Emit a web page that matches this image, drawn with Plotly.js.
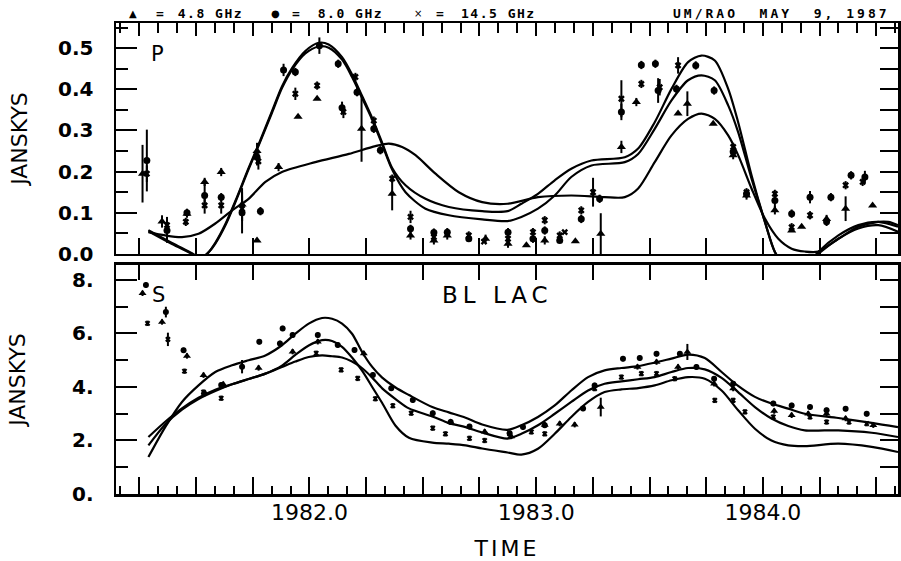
<!DOCTYPE html>
<html><head><meta charset="utf-8">
<script src="https://cdn.plot.ly/plotly-3.0.1.min.js"></script>
<style>
html,body{margin:0;padding:0;background:#fff;}
#chart{width:901px;height:561px;}
.xtitle{letter-spacing:3px;}
g.annotation[data-index="0"] text{letter-spacing:5px;}
g.annotation[data-index="3"] text{letter-spacing:3px;}
g.annotation[data-index="6"] text,g.annotation[data-index="9"] text,g.annotation[data-index="12"] text{letter-spacing:1.5px;}
</style></head><body><div id="chart"></div>
<script>
// ---------------- DATA ----------------
// Top panel (P, polarized flux, Jy)
const P48_t = [1981.264,1981.350,1981.460,1981.538,1981.611,1981.703,1981.769,1981.769,1981.864,1981.950,1982.034,1982.230,1982.365,1982.446,1982.549,1982.608,1982.777,1982.876,1982.957,1983.038,1983.173,1983.285,1983.376,1983.442,1983.626,1983.667,1983.781,1983.869,1983.928,1984.053,1984.127,1984.171,1984.281,1984.365,1984.484];
const P48_v = [0.195,0.079,0.098,0.175,0.199,0.12,0.033,0.25,0.211,0.333,0.377,0.304,0.146,0.045,0.033,0.045,0.037,0.025,0.021,0.033,0.031,0.049,0.260,0.369,0.341,0.365,0.316,0.24,0.142,0.106,0.057,0.066,0.085,0.110,0.118];
const P48_e = [0.07,0.015,0.01,0.01,0.01,0.04,0,0.02,0.01,0,0,0.08,0.04,0.01,0.01,0.01,0.01,0.01,0,0.01,0,0.05,0.015,0.01,0,0.03,0,0.01,0.01,0.01,0,0,0.01,0.03,0];

const P80_t = [1981.283,1981.372,1981.460,1981.538,1981.611,1981.703,1981.784,1981.769,1981.886,1981.938,1982.044,1982.127,1982.144,1982.210,1982.284,1982.313,1982.446,1982.549,1982.608,1982.703,1982.876,1982.986,1983.038,1983.104,1983.199,1983.280,1983.376,1983.464,1983.526,1983.538,1983.619,1983.704,1983.785,1983.869,1983.928,1984.053,1984.127,1984.208,1984.281,1984.300,1984.389,1984.450];
const P80_v = [0.227,0.057,0.100,0.142,0.138,0.10,0.104,0.235,0.447,0.442,0.506,0.462,0.355,0.393,0.304,0.252,0.061,0.052,0.053,0.037,0.053,0.037,0.057,0.033,0.085,0.134,0.345,0.459,0.462,0.397,0.401,0.458,0.397,0.248,0.146,0.130,0.098,0.138,0.078,0.138,0.191,0.187];
const P80_e = [0.075,0.03,0.01,0.03,0.01,0.05,0.01,0.02,0.015,0.01,0.02,0.01,0.015,0.01,0.01,0.01,0.01,0.01,0.01,0,0.01,0.01,0.01,0,0.01,0.01,0.02,0.01,0.01,0.03,0.01,0.01,0.01,0.01,0.01,0.02,0.01,0.015,0.01,0.01,0.01,0.015];

const P145_t = [1981.283,1981.372,1981.455,1981.538,1981.611,1981.703,1981.775,1981.938,1982.034,1982.150,1982.203,1982.284,1982.365,1982.446,1982.549,1982.703,1982.770,1982.876,1982.986,1983.038,1983.104,1983.126,1983.199,1983.251,1983.376,1983.464,1983.545,1983.626,1983.869,1983.928,1984.053,1984.127,1984.208,1984.365,1984.440];
const P145_v = [0.195,0.070,0.078,0.118,0.118,0.11,0.225,0.389,0.409,0.345,0.430,0.324,0.183,0.090,0.041,0.045,0.030,0.037,0.053,0.082,0.045,0.053,0.106,0.150,0.377,0.413,0.405,0.458,0.260,0.150,0.146,0.065,0.094,0.167,0.175];
const P145_e = [0.02,0.02,0.01,0.02,0.02,0.03,0.02,0.015,0.01,0.015,0.01,0.01,0.01,0.015,0.01,0.01,0,0.01,0.01,0.01,0.01,0,0.01,0.035,0.045,0.01,0.02,0.02,0.01,0.01,0.01,0.01,0.01,0.01,0.01];

// Top panel model curves
const PA_t = [1981.290,1981.364,1981.438,1981.511,1981.585,1981.659,1981.732,1981.806,1981.879,1982.026,1982.174,1982.291,1982.350,1982.409,1982.468,1982.556,1982.659,1982.762,1982.874,1983.008,1983.155,1983.302,1983.391,1983.450,1983.523,1983.597,1983.670,1983.729,1983.788,1983.847,1983.891,1983.950,1984.009,1984.068,1984.127,1984.185,1984.244,1984.333,1984.421,1984.509,1984.553,1984.596];
const PA_v = [0.053,0.045,0.041,0.049,0.074,0.106,0.134,0.175,0.199,0.223,0.243,0.262,0.268,0.260,0.240,0.195,0.150,0.126,0.122,0.138,0.142,0.138,0.138,0.159,0.223,0.288,0.328,0.341,0.328,0.288,0.240,0.159,0.086,0.037,0.013,0.006,0.006,0.037,0.066,0.078,0.078,0.070];
const PB_t = [1981.290,1981.394,1981.482,1981.520,1981.556,1981.585,1981.629,1981.673,1981.732,1981.776,1981.835,1981.879,1981.924,1981.982,1982.041,1982.085,1982.144,1982.188,1982.233,1982.277,1982.321,1982.365,1982.424,1982.512,1982.615,1982.762,1982.874,1982.935,1983.008,1983.082,1983.155,1983.244,1983.391,1983.450,1983.523,1983.597,1983.670,1983.729,1983.788,1983.847,1983.891,1983.950,1984.009,1984.053,1984.100,1984.150,1984.200,1984.244,1984.333,1984.421,1984.509,1984.596];
const PB_v = [0.058,0.027,0.002,-0.010,0.005,0.027,0.072,0.128,0.209,0.266,0.347,0.407,0.452,0.493,0.513,0.509,0.478,0.436,0.383,0.330,0.270,0.209,0.167,0.134,0.114,0.104,0.104,0.122,0.146,0.179,0.207,0.227,0.235,0.256,0.320,0.401,0.466,0.482,0.470,0.401,0.320,0.191,0.078,0.005,-0.030,-0.040,-0.025,0.005,0.045,0.070,0.078,0.066];
const PC_v = [0.055,0.024,0.000,-0.012,0.004,0.025,0.069,0.125,0.206,0.263,0.343,0.403,0.448,0.487,0.504,0.501,0.472,0.430,0.378,0.326,0.266,0.205,0.150,0.110,0.094,0.084,0.080,0.090,0.110,0.142,0.187,0.215,0.223,0.243,0.304,0.373,0.422,0.434,0.422,0.361,0.296,0.183,0.078,0.005,-0.030,-0.040,-0.025,0.000,0.037,0.062,0.070,0.054];

// Bottom panel (S, total flux, Jy)
const S48_t = [1981.264,1981.350,1981.460,1981.533,1981.620,1981.776,1981.926,1982.037,1982.240,1982.623,1982.773,1982.890,1983.038,1983.104,1983.170,1983.285,1983.447,1983.531,1983.626,1983.667,1983.785,1983.869,1984.050,1984.127,1984.200,1984.281,1984.365,1984.487];
const S48_v = [7.50,6.43,5.16,4.44,4.10,4.71,5.32,5.69,5.25,2.69,2.33,2.15,2.58,2.63,2.59,3.25,4.75,4.93,4.75,5.31,4.12,3.94,3.10,2.94,3.00,3.00,2.82,2.57];
const S48_e = [0.1,0.1,0.1,0.1,0.1,0.1,0.1,0.1,0.1,0.1,0.1,0.1,0.1,0.1,0.1,0.35,0.1,0.1,0.1,0.3,0.1,0.1,0.1,0.1,0.1,0.1,0.1,0.1];

const S80_t = [1981.279,1981.367,1981.445,1981.536,1981.611,1981.703,1981.779,1981.870,1981.882,1981.926,1982.037,1982.125,1982.199,1982.280,1982.361,1982.456,1982.544,1982.623,1982.706,1982.883,1982.942,1983.038,1983.207,1983.258,1983.383,1983.457,1983.531,1983.634,1983.707,1983.785,1983.869,1984.046,1984.127,1984.208,1984.281,1984.365,1984.458];
const S80_v = [7.81,6.80,5.37,3.76,4.07,4.76,5.69,5.63,6.19,5.94,5.94,5.57,5.38,4.45,3.95,3.51,3.02,2.69,2.52,2.27,2.50,2.57,3.20,4.06,5.06,5.08,5.24,5.24,4.75,4.31,4.12,3.38,3.31,3.25,3.13,3.19,3.00];
const S80_e = [0.1,0.2,0.1,0.1,0.1,0.25,0.1,0.1,0.1,0.1,0.1,0.1,0.1,0.1,0.1,0.1,0.1,0.1,0.1,0.1,0.1,0.1,0.1,0.1,0.1,0.1,0.1,0.1,0.1,0.1,0.1,0.1,0.1,0.1,0.1,0.1,0.1];

const S145_t = [1981.286,1981.376,1981.449,1981.533,1981.611,1982.030,1982.140,1982.213,1982.291,1982.368,1982.449,1982.544,1982.600,1982.706,1982.773,1982.883,1982.979,1983.038,1983.258,1983.376,1983.464,1983.531,1983.611,1983.788,1983.869,1983.921,1984.046,1984.208,1984.281,1984.380,1984.458];
const S145_v = [6.38,5.78,4.59,3.81,3.58,5.26,4.64,4.32,3.56,3.30,3.02,2.46,2.25,2.08,2.00,2.25,2.32,2.25,3.94,4.37,4.50,4.50,4.31,3.50,3.50,3.07,2.88,2.88,2.69,2.69,2.63];
const S145_e = [0.1,0.25,0.1,0.1,0.1,0.1,0.1,0.1,0.1,0.1,0.1,0.1,0.1,0.1,0.1,0.1,0.1,0.1,0.1,0.1,0.1,0.1,0.1,0.1,0.1,0.1,0.1,0.1,0.1,0.1,0.1];

// Bottom panel model curves
const SC_t = [1981.290,1981.364,1981.438,1981.511,1981.585,1981.659,1981.732,1981.806,1981.879,1981.938,1981.997,1982.056,1982.100,1982.144,1982.188,1982.233,1982.277,1982.321,1982.380,1982.439,1982.542,1982.615,1982.689,1982.762,1982.874,1982.935,1983.008,1983.082,1983.155,1983.229,1983.302,1983.376,1983.450,1983.523,1983.597,1983.670,1983.744,1983.818,1983.891,1983.965,1984.038,1984.112,1984.185,1984.333,1984.480,1984.596];
const SU_v = [1.38,2.50,3.44,4.06,4.56,4.81,5.00,5.18,5.56,5.99,6.37,6.58,6.55,6.37,5.99,5.30,4.75,4.35,3.98,3.70,3.25,3.05,2.85,2.60,2.40,2.57,2.88,3.31,3.87,4.37,4.62,4.71,4.78,4.91,5.06,5.21,5.08,4.56,4.04,3.63,3.38,3.19,3.00,2.84,2.66,2.50];
const SM_v = [2.13,2.70,3.20,3.60,3.90,4.10,4.30,4.50,4.80,5.20,5.55,5.75,5.72,5.50,5.10,4.60,4.00,3.40,2.55,2.10,1.92,1.88,1.82,1.70,1.55,1.47,1.69,2.25,2.88,3.44,3.81,3.91,3.96,4.06,4.25,4.37,4.31,3.87,3.13,2.44,2.00,1.82,1.79,1.88,1.76,1.57];
const SL_v = [1.82,2.60,3.15,3.55,3.85,4.10,4.30,4.50,4.75,4.95,5.12,5.18,5.15,5.10,4.95,4.70,4.35,3.95,3.55,3.20,2.90,2.65,2.50,2.30,2.07,2.25,2.57,3.00,3.44,3.87,4.12,4.21,4.29,4.37,4.56,4.71,4.66,4.34,3.81,3.25,2.82,2.54,2.38,2.38,2.29,2.13];

// Tick labels
const xYears = [1982, 1983, 1984];
const xYearLabels = ['1982.0', '1983.0', '1984.0'];
const yTopTicks = [0, 0.1, 0.2, 0.3, 0.4, 0.5];
const yTopLabels = ['0.0', '0.1', '0.2', '0.3', '0.4', '0.5'];
const yBotTicks = [0, 2, 4, 6, 8];
const yBotLabels = ['0.', '2.', '4.', '6.', '8.'];
const legendItems = ['4.8 GHz', '8.0 GHz', '14.5 GHz'];
const legendSymbols = ['▲', '●', '×'];

// ---------------- AXIS HELPERS ----------------
const X0 = 1981.147, X1 = 1984.596;
const quarterVals = [], quarterText = [], monthVals = [];
for (let q = 1981.25; q <= X1 + 1e-6; q += 0.25) {
  const v = Math.round(q * 4) / 4;
  quarterVals.push(v);
  const i = xYears.indexOf(v);
  quarterText.push(i >= 0 ? xYearLabels[i] : '');
}
for (let m = 1; m <= 12 * 4; m++) {
  const v = 1981 + m / 12;
  if (v < X0 || v > X1) continue;
  if (m % 3 === 0) continue;
  monthVals.push(v);
}
const yTopMinor = [0.05, 0.15, 0.25, 0.35, 0.45, 0.55];
const yTopRight = [0.05, 0.1, 0.15, 0.2, 0.25, 0.3, 0.35, 0.4, 0.45, 0.5, 0.55];
const yBotMinor = [1, 3, 5, 7];
const yBotRight = [1, 2, 3, 4, 5, 6, 7, 8];

const BLACK = '#000';
const LW = 2.5;
const tickFontY = {family: 'DejaVu Sans', size: 20, color: BLACK, weight: 'bold'};
const tickFontX = {family: 'DejaVu Sans', size: 22, color: BLACK};
const titleFont = {family: 'DejaVu Sans', size: 22, color: BLACK};

function baseAxis(extra) {
  return Object.assign({
    showline: true, linewidth: LW, linecolor: BLACK, mirror: false,
    showgrid: false, zeroline: false, ticks: 'inside', tickwidth: 2, tickcolor: BLACK,
    fixedrange: true
  }, extra);
}

// ---------------- TRACES ----------------
function pts(t, v, e, sym, size, xa, ya) {
  return {type: 'scatter', mode: 'markers', x: t, y: v, xaxis: xa, yaxis: ya,
    marker: {symbol: sym, size: size, color: BLACK, line: {width: 0}},
    error_y: {type: 'data', array: e, visible: true, color: BLACK, thickness: 2, width: 0},
    showlegend: false, hoverinfo: 'skip'};
}
function curve(t, v, xa, ya) {
  return {type: 'scatter', mode: 'lines', x: t, y: v, xaxis: xa, yaxis: ya,
    line: {color: BLACK, width: 2.2, shape: 'spline', smoothing: 0.8},
    showlegend: false, hoverinfo: 'skip'};
}
function empty(xa, ya) {
  return {type: 'scatter', mode: 'markers', x: [], y: [], xaxis: xa, yaxis: ya, showlegend: false, hoverinfo: 'skip'};
}

const traces = [
  curve(PA_t, PA_v, 'x2', 'y2'),
  curve(PB_t, PB_v, 'x2', 'y2'),
  curve(PB_t, PC_v, 'x2', 'y2'),
  pts(P48_t, P48_v, P48_e, 'triangle-up', 8, 'x2', 'y2'),
  pts(P80_t, P80_v, P80_e, 'circle', 7, 'x2', 'y2'),
  pts(P145_t, P145_v, P145_e, 'x', 6, 'x2', 'y2'),
  curve(SC_t, SU_v, 'x', 'y'),
  curve(SC_t, SM_v, 'x', 'y'),
  curve(SC_t, SL_v, 'x', 'y'),
  pts(S48_t, S48_v, S48_e, 'triangle-up', 7, 'x', 'y'),
  pts(S80_t, S80_v, S80_e, 'circle', 6, 'x', 'y'),
  pts(S145_t, S145_v, S145_e, 'x', 5, 'x', 'y'),
  empty('x3', 'y'), empty('x4', 'y2'), empty('x', 'y3'), empty('x2', 'y4')
];

// ---------------- ANNOTATIONS ----------------
const legFont = {family: 'DejaVu Sans Mono', size: 13, color: BLACK, weight: 'bold'};
const symFont = {family: 'DejaVu Sans', size: 10, color: BLACK};
function pxX(px) { return (px - 116) / 782; }
function pxY(py) { return (494 - py) / 471; }
const annotations = [
  {text: 'BL LAC', xref: 'paper', yref: 'paper', x: pxX(497), y: pxY(295), xanchor: 'center', yanchor: 'middle', showarrow: false, font: {family: 'DejaVu Sans', size: 23, color: BLACK}},
  {text: 'P', xref: 'paper', yref: 'paper', x: pxX(157.5), y: pxY(54.5), xanchor: 'center', yanchor: 'middle', showarrow: false, font: {family: 'DejaVu Sans', size: 21, color: BLACK}},
  {text: 'S', xref: 'paper', yref: 'paper', x: pxX(158.5), y: pxY(294.5), xanchor: 'center', yanchor: 'middle', showarrow: false, font: {family: 'DejaVu Sans', size: 21, color: BLACK}},
  {text: 'UM/RAO  MAY  9, 1987', xref: 'paper', yref: 'paper', x: pxX(781), y: pxY(13), xanchor: 'center', yanchor: 'middle', showarrow: false, font: legFont}
];
const symX = [133, 275, 418], eqX = [160, 296, 440], txtX = [210, 350, 498];
for (let i = 0; i < legendItems.length; i++) {
  annotations.push({text: legendSymbols[i], xref: 'paper', yref: 'paper', x: pxX(symX[i]), y: pxY(13), xanchor: 'center', yanchor: 'middle', showarrow: false, font: symFont});
  annotations.push({text: '=', xref: 'paper', yref: 'paper', x: pxX(eqX[i]), y: pxY(13), xanchor: 'center', yanchor: 'middle', showarrow: false, font: legFont});
  annotations.push({text: legendItems[i], xref: 'paper', yref: 'paper', x: pxX(txtX[i]), y: pxY(13), xanchor: 'center', yanchor: 'middle', showarrow: false, font: legFont});
}

// ---------------- LAYOUT ----------------
const layout = {
  width: 901, height: 561,
  margin: {l: 116, r: 3, t: 23, b: 67, pad: 0},
  paper_bgcolor: '#fff', plot_bgcolor: '#fff',
  showlegend: false,
  xaxis: baseAxis({
    domain: [0, 1], anchor: 'y', range: [X0, X1],
    tickmode: 'array', tickvals: quarterVals, ticktext: quarterText, ticklen: 17,
    tickfont: tickFontX, ticklabelstandoff: -3,
    minor: {tickmode: 'array', tickvals: monthVals, ticks: 'inside', ticklen: 8, tickwidth: 2, tickcolor: BLACK, showgrid: false},
    title: {text: 'TIME', font: titleFont, standoff: 19}
  }),
  xaxis2: baseAxis({
    domain: [0, 1], anchor: 'y2', matches: 'x', range: [X0, X1],
    tickmode: 'array', tickvals: quarterVals, ticklen: 16, showticklabels: false
  }),
  xaxis3: baseAxis({
    overlaying: 'x', side: 'top', anchor: 'y', matches: 'x', range: [X0, X1],
    tickmode: 'array', tickvals: quarterVals, ticklen: 15, showticklabels: false
  }),
  xaxis4: baseAxis({
    overlaying: 'x2', side: 'top', anchor: 'y2', matches: 'x', range: [X0, X1],
    tickmode: 'array', tickvals: quarterVals, ticklen: 13, showticklabels: false,
    minor: {tickmode: 'array', tickvals: monthVals, ticks: 'inside', ticklen: 10, tickwidth: 2, tickcolor: BLACK, showgrid: false}
  }),
  yaxis: baseAxis({
    domain: [0, 0.4862], anchor: 'x', range: [0, 8.56],
    tickmode: 'array', tickvals: yBotTicks, ticktext: yBotLabels, ticklen: 21,
    tickfont: tickFontY, ticklabelstandoff: 16,
    minor: {tickmode: 'array', tickvals: yBotMinor, ticks: 'inside', ticklen: 12, tickwidth: 2, tickcolor: BLACK, showgrid: false},
    title: {text: 'JANSKYS', font: titleFont, standoff: 41}
  }),
  yaxis3: baseAxis({
    overlaying: 'y', side: 'right', anchor: 'x', matches: 'y', range: [0, 8.56],
    tickmode: 'array', tickvals: yBotRight, ticklen: 18, showticklabels: false
  }),
  yaxis2: baseAxis({
    domain: [0.5096, 1], anchor: 'x2', range: [0, 0.561],
    tickmode: 'array', tickvals: yTopTicks, ticktext: yTopLabels, ticklen: 21,
    tickfont: tickFontY, ticklabelstandoff: 16,
    minor: {tickmode: 'array', tickvals: yTopMinor, ticks: 'inside', ticklen: 12, tickwidth: 2, tickcolor: BLACK, showgrid: false},
    title: {text: 'JANSKYS', font: titleFont, standoff: 25}
  }),
  yaxis4: baseAxis({
    overlaying: 'y2', side: 'right', anchor: 'x2', matches: 'y2', range: [0, 0.561],
    tickmode: 'array', tickvals: yTopRight, ticklen: 18, showticklabels: false
  }),
  annotations: annotations
};

Plotly.newPlot('chart', traces, layout, {staticPlot: true, displayModeBar: false});
</script></body></html>
